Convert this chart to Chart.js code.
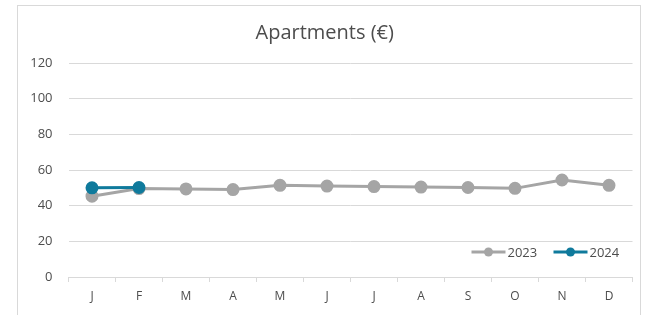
<!DOCTYPE html>
<html>
<head>
<meta charset="utf-8">
<script src="https://cdn.jsdelivr.net/npm/chart.js@4"></script>
<style>
  body { margin: 0; background: #fff; }
  #wrap { position: relative; width: 656px; height: 315px; overflow: hidden; }
  #frame { position: absolute; left: 17px; top: 5px; width: 622px; height: 330px; border: 1px solid #d9d9d9; }
  canvas { position: absolute; left: 0; top: 0; }
</style>
</head>
<body>
<div id="wrap">
  <div id="frame"></div>
  <canvas id="myChart" width="656" height="315"></canvas>
</div>
<script>
var months = ['J', 'F', 'M', 'A', 'M', 'J', 'J', 'A', 'S', 'O', 'N', 'D'];
var values2023 = [45.3, 49.6, 49.4, 49.0, 51.4, 51.0, 50.7, 50.4, 50.2, 49.7, 54.4, 51.4];
var values2024 = [50.0, 50.2];
var yTicks = [0, 20, 40, 60, 80, 100, 120];

var grey = '#a5a5a5';
var blue = '#0f7a9c';
var textColor = '#4d4d4d';
var fontName = "'Open Sans', sans-serif";

// legend sits inside the plot, bottom right, like the excel one
var cornerLegend = {
    id: 'cornerLegend',
    afterDraw: function(chart) {
        var ctx = chart.ctx;
        var area = chart.chartArea;
        var y = area.bottom - 25;
        var items = [
            { label: chart.data.datasets[0].label, color: chart.data.datasets[0].borderColor, x: area.right - 161 },
            { label: chart.data.datasets[1].label, color: chart.data.datasets[1].borderColor, x: area.right - 79 }
        ];
        ctx.save();
        ctx.font = '13px ' + fontName;
        ctx.textBaseline = 'middle';
        items.forEach(function(it) {
            ctx.strokeStyle = it.color;
            ctx.lineWidth = 3;
            ctx.beginPath();
            ctx.moveTo(it.x, y);
            ctx.lineTo(it.x + 34, y);
            ctx.stroke();
            ctx.fillStyle = it.color;
            ctx.beginPath();
            ctx.arc(it.x + 17, y, 4.5, 0, Math.PI * 2);
            ctx.fill();
            ctx.fillStyle = textColor;
            ctx.fillText(it.label, it.x + 36, y + 1);
        });
        ctx.restore();
    }
};

var ctx = document.getElementById('myChart').getContext('2d');
var myChart = new Chart(ctx, {
    type: 'line',
    data: {
        labels: months,
        datasets: [{
            label: '2023',
            data: values2023,
            borderColor: grey,
            backgroundColor: grey,
            borderWidth: 3,
            pointRadius: 5,
            pointHoverRadius: 5,
            tension: 0,
            order: 2
        }, {
            label: '2024',
            data: values2024,
            borderColor: blue,
            backgroundColor: blue,
            borderWidth: 3,
            pointRadius: 5,
            pointHoverRadius: 5,
            tension: 0,
            order: 1
        }]
    },
    options: {
        responsive: false,
        animation: false,
        layout: { padding: { left: 17, right: 23.5, top: 0, bottom: 0 } },
        plugins: {
            legend: { display: false },
            tooltip: { enabled: false },
            title: {
                display: true,
                text: 'Apartments (€)',
                color: textColor,
                font: { family: fontName, size: 20, weight: 'normal' },
                padding: { top: 21, bottom: 18 }
            }
        },
        scales: {
            x: {
                offset: true,
                grid: {
                    offset: true,
                    drawOnChartArea: false,
                    color: '#d9d9d9',
                    tickLength: 5
                },
                border: { color: '#d9d9d9' },
                ticks: {
                    color: textColor,
                    font: { family: fontName, size: 12 },
                    padding: 7
                },
                afterFit: function(scale) { scale.height = 38; }
            },
            y: {
                min: 0,
                max: 120,
                afterBuildTicks: function(scale) {
                    scale.ticks = yTicks.map(function(v) { return { value: v }; });
                },
                grid: { color: '#d9d9d9', drawTicks: false },
                border: { display: false },
                ticks: {
                    color: textColor,
                    font: { family: fontName, size: 13 },
                    padding: 16
                },
                afterFit: function(scale) { scale.width = 51.5; }
            }
        }
    },
    plugins: [cornerLegend]
});
</script>
</body>
</html>
